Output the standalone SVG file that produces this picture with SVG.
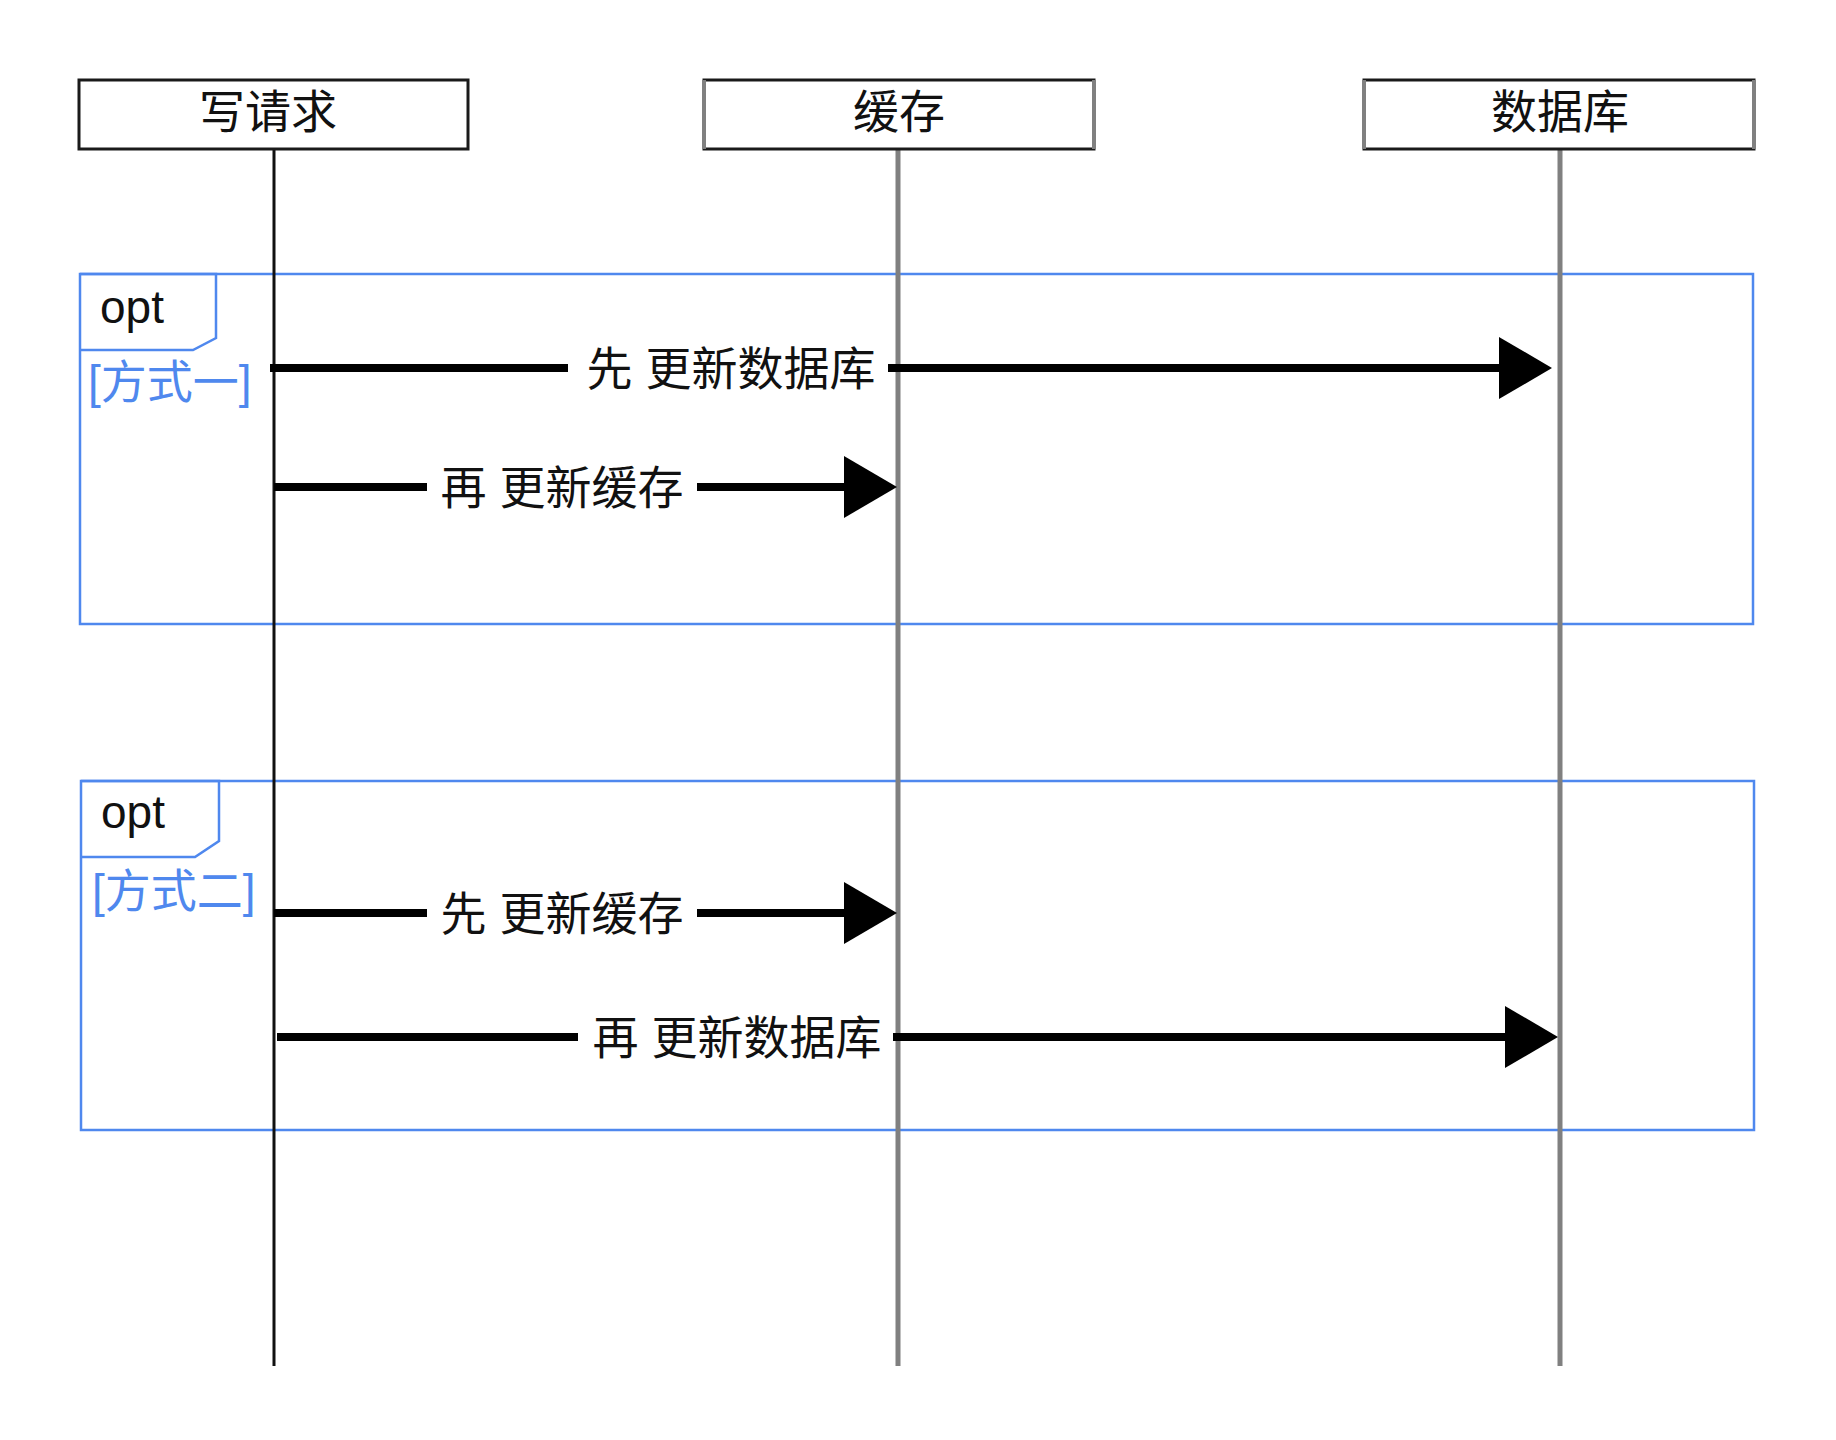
<svg xmlns="http://www.w3.org/2000/svg" width="1836" height="1440" viewBox="0 0 1836 1440">
<style>
.box{fill:#fff;stroke:#1a1a1a;stroke-width:3}
.side{stroke:#808080;stroke-width:4}
.t{font-family:"Liberation Sans","Noto Sans CJK SC",sans-serif;font-size:46px;fill:#111}
.c{text-anchor:middle}
.frame{fill:none;stroke:#4f88ee;stroke-width:2.5}
.guard{fill:#4f88ee}
.life{stroke:#808080;stroke-width:5}
.lifeb{stroke:#111;stroke-width:3}
.msg{stroke:#000;stroke-width:8;fill:none}
</style>
<defs>
<marker id="ah" markerUnits="userSpaceOnUse" markerWidth="54" markerHeight="62" refX="23" refY="31" orient="auto">
<path d="M0,0 L53,31 L0,62 Z" fill="#000"/>
</marker>
</defs>
<rect width="1836" height="1440" fill="#fff"/>

<g id="frame1">
<rect class="frame" x="80" y="274" width="1673" height="350"/>
<path class="frame" d="M80,274 H216 V338 L193,350 H80"/>
<text class="t" x="100" y="323">opt</text>
<text class="t guard" x="88" y="398">[方式一]</text>
</g>
<g id="frame2">
<rect class="frame" x="81" y="781" width="1673" height="349"/>
<path class="frame" d="M81,781 H219 V841 L195,857 H81"/>
<text class="t" x="101" y="828">opt</text>
<text class="t guard" x="92" y="907">[方式二]</text>
</g>

<g id="lifelines">
<line class="lifeb" x1="274" y1="149" x2="274" y2="1366"/>
<line class="life" x1="898" y1="149" x2="898" y2="1366"/>
<line class="life" x1="1560" y1="149" x2="1560" y2="1366"/>
</g>

<g id="node-write">
<rect class="box" x="79" y="80" width="389" height="69"/>
<text class="t c" x="268" y="128">写请求</text>
</g>
<g id="node-cache">
<rect class="box" x="704" y="80" width="390" height="69"/>
<line class="side" x1="704" y1="80" x2="704" y2="149"/>
<line class="side" x1="1094" y1="80" x2="1094" y2="149"/>
<text class="t c" x="899" y="128">缓存</text>
</g>
<g id="node-db">
<rect class="box" x="1364" y="80" width="390" height="69"/>
<line class="side" x1="1364" y1="80" x2="1364" y2="149"/>
<line class="side" x1="1754" y1="80" x2="1754" y2="149"/>
<text class="t c" x="1560" y="128">数据库</text>
</g>

<g id="connectors">
<line class="msg" x1="270" y1="368" x2="568" y2="368"/>
<line class="msg" x1="888" y1="368" x2="1522" y2="368" marker-end="url(#ah)"/>
<text class="t c" x="731" y="385">先 更新数据库</text>

<line class="msg" x1="274" y1="487" x2="427" y2="487"/>
<line class="msg" x1="697" y1="487" x2="867" y2="487" marker-end="url(#ah)"/>
<text class="t c" x="562" y="504">再 更新缓存</text>

<line class="msg" x1="274" y1="913" x2="427" y2="913"/>
<line class="msg" x1="697" y1="913" x2="867" y2="913" marker-end="url(#ah)"/>
<text class="t c" x="562" y="930">先 更新缓存</text>

<line class="msg" x1="277" y1="1037" x2="578" y2="1037"/>
<line class="msg" x1="893" y1="1037" x2="1528" y2="1037" marker-end="url(#ah)"/>
<text class="t c" x="737" y="1054">再 更新数据库</text>
</g>
</svg>
